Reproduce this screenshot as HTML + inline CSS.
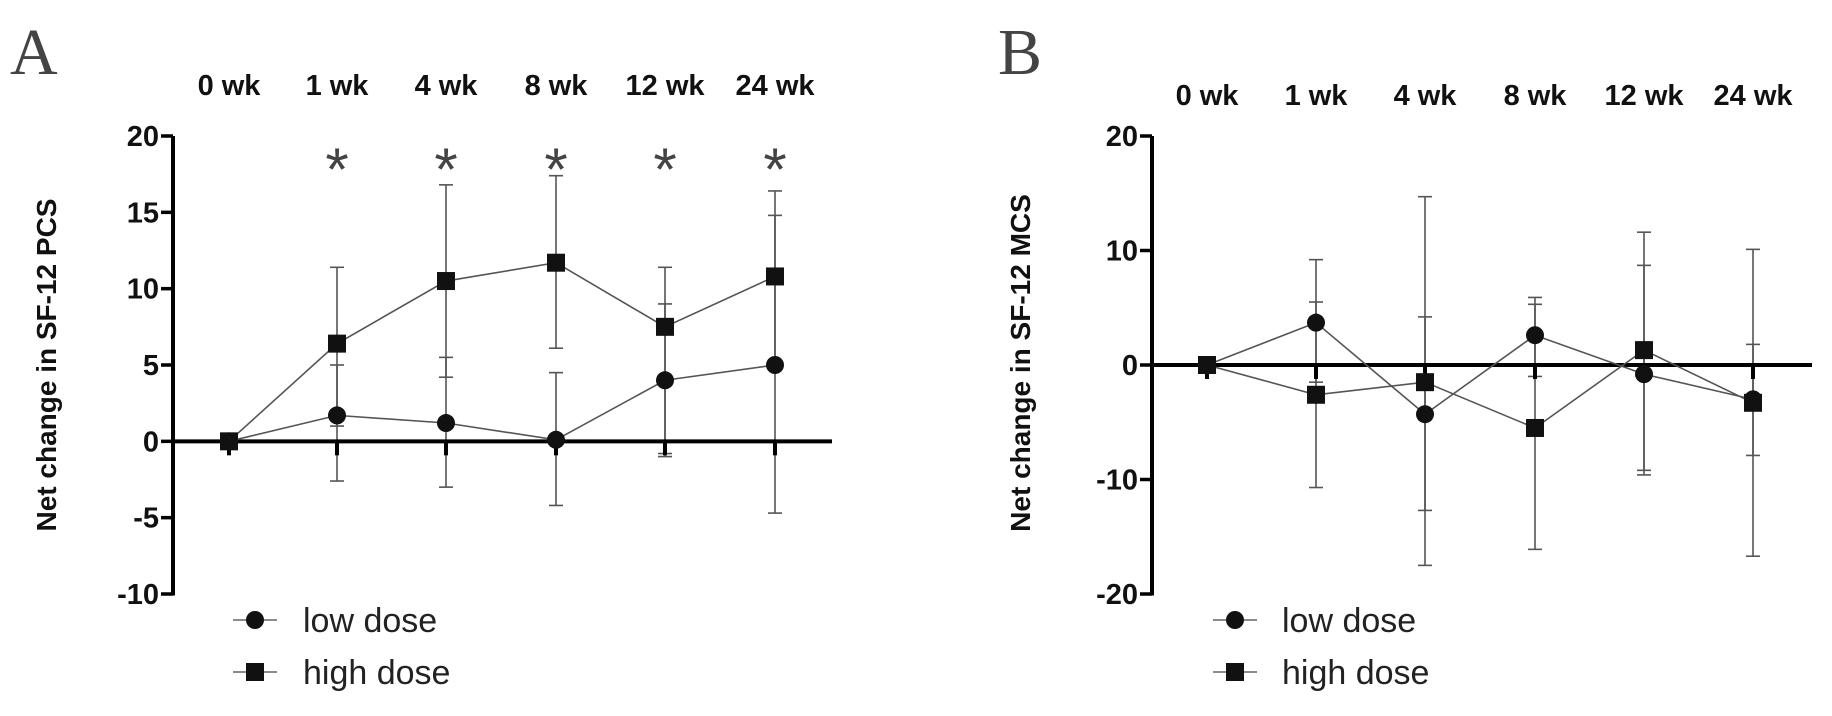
<!DOCTYPE html>
<html><head><meta charset="utf-8"><style>
html,body{margin:0;padding:0;background:#fff;}
svg{display:block;}
text{font-family:"Liberation Sans",Arial,sans-serif;}
</style></head><body>
<svg id="s" width="1832" height="716" viewBox="0 0 1832 716" xmlns="http://www.w3.org/2000/svg"></svg>
<script>
const s=document.getElementById('s');let h='';
function panel(o){
  const X=o.xs, Y=v=>o.y0+(v-o.vmin)*(o.y1-o.y0)/(o.vmax-o.vmin);
  h+=`<text x="${o.lx}" y="${o.ly}" style="font-family:'Liberation Serif',serif" font-size="66" fill="#444">${o.letter}</text>`;
  const wk=['0 wk','1 wk','4 wk','8 wk','12 wk','24 wk'];
  wk.forEach((w,i)=>h+=`<text x="${X[i]}" y="${o.wy}" text-anchor="middle" font-size="29" font-weight="bold" fill="#111">${w}</text>`);
  if(o.star) for(let i=1;i<6;i++) h+=`<text x="${X[i]}" y="${o.wy+95}" text-anchor="middle" font-size="60" fill="#444">*</text>`;
  h+=`<line x1="${o.ax}" y1="${Y(o.vmax)}" x2="${o.ax}" y2="${Y(o.vmin)+1.5}" stroke="#000" stroke-width="4"/>`;
  o.ticks.forEach(t=>{h+=`<line x1="${o.ax-12}" y1="${Y(t)}" x2="${o.ax}" y2="${Y(t)}" stroke="#000" stroke-width="3.5"/>`;
    h+=`<text x="${o.ax-14}" y="${Y(t)+10}" text-anchor="end" font-size="29" font-weight="bold" fill="#111">${t}</text>`;});
  h+=`<text transform="translate(${o.tx},${o.ty}) rotate(-90)" text-anchor="middle" font-size="28" font-weight="bold" fill="#111">${o.title}</text>`;
  function eb(x,lo,hi){h+=`<line x1="${x}" y1="${Y(hi)}" x2="${x}" y2="${Y(lo)}" stroke="#555" stroke-width="1.6"/><line x1="${x-7}" y1="${Y(hi)}" x2="${x+7}" y2="${Y(hi)}" stroke="#555" stroke-width="1.6"/><line x1="${x-7}" y1="${Y(lo)}" x2="${x+7}" y2="${Y(lo)}" stroke="#555" stroke-width="1.6"/>`;}
  o.low.forEach((d,i)=>{if(i)eb(X[i],d[1],d[2]);});
  o.high.forEach((d,i)=>{if(i)eb(X[i],d[1],d[2]);});
  h+=`<line x1="${o.ax}" y1="${Y(0)}" x2="${o.zx}" y2="${Y(0)}" stroke="#000" stroke-width="4"/>`;
  for(let i=0;i<6;i++) h+=`<line x1="${X[i]}" y1="${Y(0)}" x2="${X[i]}" y2="${Y(0)+14}" stroke="#000" stroke-width="4"/>`;
  h+=`<polyline fill="none" stroke="#555" stroke-width="1.6" points="${o.low.map((d,i)=>X[i]+','+Y(d[0])).join(' ')}"/>`;
  h+=`<polyline fill="none" stroke="#555" stroke-width="1.6" points="${o.high.map((d,i)=>X[i]+','+Y(d[0])).join(' ')}"/>`;
  o.low.forEach((d,i)=>h+=`<circle cx="${X[i]}" cy="${Y(d[0])}" r="9" fill="#111"/>`);
  o.high.forEach((d,i)=>h+=`<rect x="${X[i]-9}" y="${Y(d[0])-9}" width="18" height="18" fill="#111"/>`);
  const mx=o.mx;
  h+=`<line x1="${mx-22}" y1="620" x2="${mx+22}" y2="620" stroke="#666" stroke-width="1.6"/><circle cx="${mx}" cy="620" r="9" fill="#111"/>`;
  h+=`<text x="${o.ltx}" y="632" font-size="34" fill="#222">low dose</text>`;
  h+=`<line x1="${mx-22}" y1="672" x2="${mx+22}" y2="672" stroke="#666" stroke-width="1.6"/><rect x="${mx-9}" y="663" width="18" height="18" fill="#111"/>`;
  h+=`<text x="${o.ltx}" y="684" font-size="34" fill="#222">high dose</text>`;
}
panel({letter:'A',lx:10,ly:74,xs:[229,337,446,556,665,775],wy:95,star:true,ax:173,y0:594,y1:136,vmin:-10,vmax:20,
 ticks:[20,15,10,5,0,-5,-10],tx:56,ty:365,title:'Net change in SF-12 PCS',zx:832,
 low:[[0,0,0],[1.7,-2.6,5.0],[1.2,-3.0,5.5],[0.1,-4.2,4.5],[4.0,-1.0,9.0],[5.0,-4.7,14.8]],
 high:[[0,0,0],[6.4,1.0,11.4],[10.5,4.2,16.8],[11.7,6.1,17.4],[7.5,-0.8,11.4],[10.8,5.2,16.4]],
 mx:255,ltx:303});
panel({letter:'B',lx:998,ly:74,xs:[1207,1316,1425,1535,1644,1753],wy:105,star:false,ax:1152,y0:594,y1:136,vmin:-20,vmax:20,
 ticks:[20,10,0,-10,-20],tx:1030,ty:363,title:'Net change in  SF-12 MCS',zx:1812,
 low:[[0,0,0],[3.7,-1.5,9.2],[-4.3,-12.7,4.2],[2.6,-1.0,5.9],[-0.8,-9.6,8.7],[-3.0,-7.9,1.8]],
 high:[[0,0,0],[-2.6,-10.7,5.5],[-1.5,-17.5,14.7],[-5.5,-16.1,5.3],[1.3,-9.2,11.6],[-3.3,-16.7,10.1]],
 mx:1235,ltx:1282});
s.innerHTML=h;
</script>
</body></html>
